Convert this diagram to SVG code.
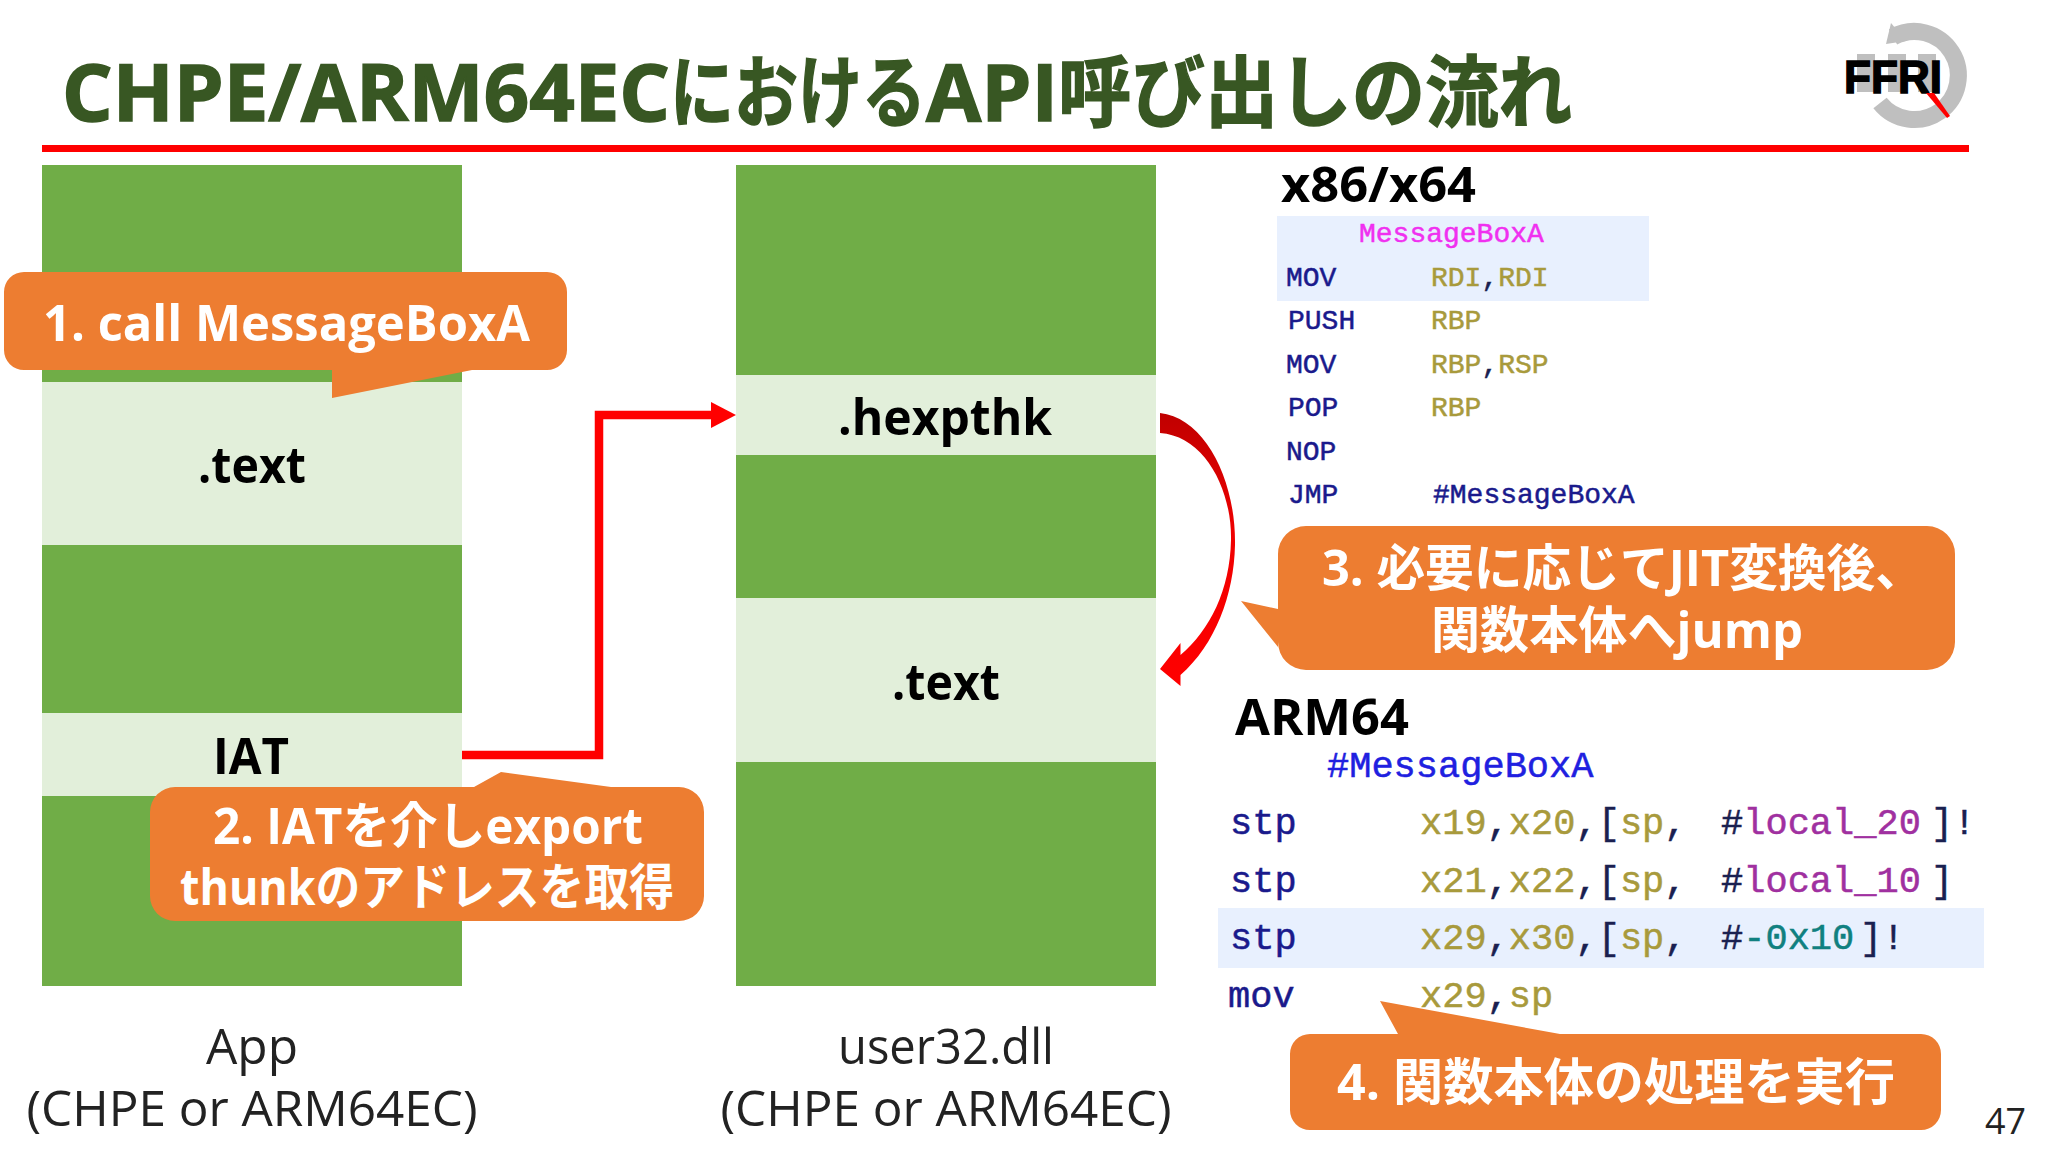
<svg xmlns="http://www.w3.org/2000/svg" width="2048" height="1152" viewBox="0 0 2048 1152">
<defs>
<linearGradient id="curve" x1="0" y1="0" x2="0" y2="1"><stop offset="0" stop-color="#c00000"/><stop offset="0.45" stop-color="#f00000"/><stop offset="1" stop-color="#ff0000"/></linearGradient>
</defs>
<style>
text{font-family:"Open Sans","Noto Sans CJK JP",sans-serif}
.b{font-weight:700}
.g{fill:#70ad47}.l{fill:#e2efda}.o{fill:#ed7d31}.h{fill:#e8f0fe}
.w{fill:#fff;font-weight:700}
.k{fill:#000;font-weight:700;font-size:50px}
.r{fill:#222;font-size:50px}
.m{font-family:"Liberation Mono",monospace;fill:#1a1a8c;stroke:#1a1a8c;stroke-width:.5;white-space:pre}
.x{font-size:28px}.a{font-size:37px}
.y{fill:#a89a3c;stroke:#a89a3c}.d{fill:#1a2050;stroke:#1a2050}.p{fill:#a030a0;stroke:#a030a0}.t{fill:#108080;stroke:#108080}
</style>
<rect width="2048" height="1152" fill="#fff"/>
<g id="title">
<text class="b" y="121" font-size="78" fill="#385723" stroke="#385723" stroke-width="1.5"><tspan x="62" textLength="608" lengthAdjust="spacingAndGlyphs">CHPE/ARM64EC</tspan><tspan x="670" textLength="256" lengthAdjust="spacingAndGlyphs">における</tspan><tspan x="926" textLength="132" lengthAdjust="spacingAndGlyphs">API</tspan><tspan x="1058" textLength="514" lengthAdjust="spacingAndGlyphs">呼び出しの流れ</tspan></text>
<rect x="42" y="145" width="1927" height="7" fill="#f00"/>
</g>
<g id="logo">
<path d="M1893,37 A44,44 0 1 1 1880,103" fill="none" stroke="#bfbfbf" stroke-width="17"/>
<polygon points="1891,23 1886,44 1906,41" fill="#bfbfbf"/>
<path d="M1857,54h18v38h-18zM1888,54h18v38h-18zM1918,54h18v38h-18z" fill="#bfbfbf"/>
<text x="1844" y="93" font-size="46" fill="#000" stroke="#000" stroke-width="1.5" textLength="98" lengthAdjust="spacingAndGlyphs" style="font-family:'Liberation Sans',sans-serif;font-weight:700">FFRI</text>
<polygon points="1926,93 1934,93 1950,116 1947,118" fill="#f00"/>
</g>
<g id="app">
<rect class="g" x="42" y="165" width="420" height="821"/>
<rect class="l" x="42" y="382" width="420" height="163"/>
<rect class="l" x="42" y="713" width="420" height="83"/>
<text class="k" x="252" y="483" text-anchor="middle" textLength="108" lengthAdjust="spacingAndGlyphs">.text</text>
<text class="k" x="251" y="774" text-anchor="middle" textLength="76" lengthAdjust="spacingAndGlyphs">IAT</text>
<text class="r" x="252" y="1064" text-anchor="middle" textLength="92" lengthAdjust="spacingAndGlyphs">App</text>
<text class="r" x="252" y="1126" text-anchor="middle" textLength="451" lengthAdjust="spacingAndGlyphs">(CHPE or ARM64EC)</text>
</g>
<g id="user32">
<rect class="g" x="736" y="165" width="420" height="821"/>
<rect class="l" x="736" y="375" width="420" height="80"/>
<rect class="l" x="736" y="598" width="420" height="164"/>
<text class="k" x="945" y="435" text-anchor="middle" textLength="214" lengthAdjust="spacingAndGlyphs">.hexpthk</text>
<text class="k" x="946" y="700" text-anchor="middle" textLength="108" lengthAdjust="spacingAndGlyphs">.text</text>
<text class="r" x="946" y="1064" text-anchor="middle" textLength="216" lengthAdjust="spacingAndGlyphs">user32.dll</text>
<text class="r" x="946" y="1126" text-anchor="middle" textLength="451" lengthAdjust="spacingAndGlyphs">(CHPE or ARM64EC)</text>
</g>
<g id="connectors">
<path d="M462,755H599V415H712" fill="none" stroke="#f00" stroke-width="8.5"/>
<polygon points="711,402 736,415 711,428" fill="#f00"/>
<path d="M1160,413C1205,418 1236,480 1235,545C1234,595 1215,645 1180.5,675V686L1160,669L1180.5,643V655C1210,630 1230,590 1231,540C1232,490 1205,436 1160,433Z" fill="url(#curve)"/>
</g>
<g id="x86">
<text class="b" x="1281" y="202" font-size="49" fill="#000" textLength="195" lengthAdjust="spacingAndGlyphs">x86/x64</text>
<rect class="h" x="1277" y="216" width="372" height="85"/>
<text class="m x" x="1359" y="242" style="fill:#f030f0;stroke:#f030f0">MessageBoxA</text>
<text class="m x" x="1286" y="286">MOV</text><text class="m x y" x="1431" y="286">RDI<tspan class="d">,</tspan>RDI</text>
<text class="m x" x="1288" y="329">PUSH</text><text class="m x y" x="1431" y="329">RBP</text>
<text class="m x" x="1286" y="373">MOV</text><text class="m x y" x="1431" y="373">RBP<tspan class="d">,</tspan>RSP</text>
<text class="m x" x="1288" y="416">POP</text><text class="m x y" x="1431" y="416">RBP</text>
<text class="m x" x="1286" y="460">NOP</text>
<text class="m x" x="1288" y="503">JMP</text><text class="m x" x="1433" y="503">#MessageBoxA</text>
</g>
<g id="arm64">
<text class="b" x="1235" y="735" font-size="50" fill="#000" textLength="174" lengthAdjust="spacingAndGlyphs">ARM64</text>
<rect class="h" x="1218" y="908" width="766" height="60"/>
<text class="m a" x="1327" y="777" style="fill:#2020e0;stroke:#2020e0">#MessageBoxA</text>
<text class="m a" x="1230" y="834">stp</text><text class="m a y" x="1420" y="834">x19<tspan class="d">,</tspan>x20<tspan class="d">,[</tspan>sp<tspan class="d">,</tspan><tspan class="d" x="1721">#</tspan><tspan class="p">local_20</tspan><tspan class="d" x="1931">]!</tspan></text>
<text class="m a" x="1230" y="892">stp</text><text class="m a y" x="1420" y="892">x21<tspan class="d">,</tspan>x22<tspan class="d">,[</tspan>sp<tspan class="d">,</tspan><tspan class="d" x="1721">#</tspan><tspan class="p">local_10</tspan><tspan class="d" x="1931">]</tspan></text>
<text class="m a" x="1230" y="949">stp</text><text class="m a y" x="1420" y="949">x29<tspan class="d">,</tspan>x30<tspan class="d">,[</tspan>sp<tspan class="d">,</tspan><tspan class="d" x="1721">#</tspan><tspan class="t">-0x10</tspan><tspan class="d" x="1860">]!</tspan></text>
<text class="m a" x="1228" y="1007">mov</text><text class="m a y" x="1420" y="1007">x29<tspan class="d">,</tspan>sp</text>
</g>
<g id="callout1">
<path class="o" d="M24,272H547a20,20 0 0 1 20,20V350a20,20 0 0 1 -20,20H472L332,398V370H24a20,20 0 0 1 -20,-20V292a20,20 0 0 1 20,-20Z"/>
<text class="w" x="43" y="341" font-size="50" textLength="487" lengthAdjust="spacingAndGlyphs">1. call MessageBoxA</text>
</g>
<g id="callout2">
<path class="o" d="M175,787H474L501,772L611,787H679a25,25 0 0 1 25,25V896a25,25 0 0 1 -25,25H175a25,25 0 0 1 -25,-25V812a25,25 0 0 1 25,-25Z"/>
<text class="w" x="213" y="844" font-size="50" textLength="430" lengthAdjust="spacingAndGlyphs">2. IATを介しexport</text>
<text class="w" x="180" y="905" font-size="50" textLength="494" lengthAdjust="spacingAndGlyphs">thunkのアドレスを取得</text>
</g>
<g id="callout3">
<path class="o" d="M1306,526H1927a28,28 0 0 1 28,28V642a28,28 0 0 1 -28,28H1306a28,28 0 0 1 -28,-28V647L1241,601L1278,609V554a28,28 0 0 1 28,-28Z"/>
<text class="w" x="1322" y="586" font-size="50" textLength="602" lengthAdjust="spacingAndGlyphs">3. 必要に応じてJIT変換後、</text>
<text class="w" x="1431" y="648" font-size="50" textLength="372" lengthAdjust="spacingAndGlyphs">関数本体へjump</text>
</g>
<g id="callout4">
<path class="o" d="M1310,1034H1398L1380,1001L1560,1034H1921a20,20 0 0 1 20,20V1110a20,20 0 0 1 -20,20H1310a20,20 0 0 1 -20,-20V1054a20,20 0 0 1 20,-20Z"/>
<text class="w" x="1337" y="1100" font-size="50" textLength="558" lengthAdjust="spacingAndGlyphs">4. 関数本体の処理を実行</text>
</g>
<text x="1985" y="1134" font-size="36" fill="#222" textLength="41" lengthAdjust="spacingAndGlyphs">47</text>
</svg>
